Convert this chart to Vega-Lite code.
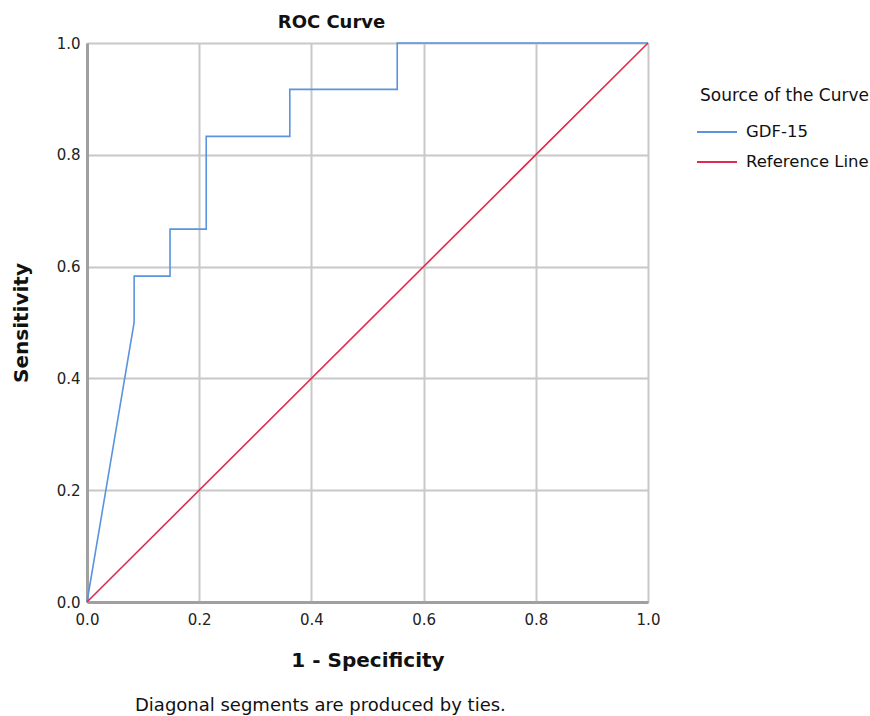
{
  "$schema": "https://vega.github.io/schema/vega-lite/v6.json",
  "background": "white",
  "padding": {"left": 10, "right": 0, "top": 13, "bottom": 5},
  "title": {
    "text": "Diagonal segments are produced by ties.",
    "orient": "bottom",
    "anchor": "start",
    "frame": "group",
    "dx": 48,
    "offset": 26,
    "fontSize": 18,
    "fontWeight": "normal",
    "font": "DejaVu Sans",
    "color": "#111"
  },
  "vconcat": [
    {
      "title": {
        "text": "ROC Curve",
        "anchor": "middle",
        "dx": -36,
        "fontSize": 18,
        "fontWeight": "bold",
        "font": "DejaVu Sans",
        "color": "#111",
        "offset": 4
      },
      "width": 561,
      "height": 559,
      "data": {
        "values": [
          {"series": "GDF-15", "i": 0, "fpr": 0, "tpr": 0},
          {"series": "GDF-15", "i": 1, "fpr": 0.084, "tpr": 0.5},
          {"series": "GDF-15", "i": 2, "fpr": 0.084, "tpr": 0.583},
          {"series": "GDF-15", "i": 3, "fpr": 0.148, "tpr": 0.583},
          {"series": "GDF-15", "i": 4, "fpr": 0.148, "tpr": 0.667},
          {"series": "GDF-15", "i": 5, "fpr": 0.2125, "tpr": 0.667},
          {"series": "GDF-15", "i": 6, "fpr": 0.2125, "tpr": 0.833},
          {"series": "GDF-15", "i": 7, "fpr": 0.3615, "tpr": 0.833},
          {"series": "GDF-15", "i": 8, "fpr": 0.3615, "tpr": 0.917},
          {"series": "GDF-15", "i": 9, "fpr": 0.553, "tpr": 0.917},
          {"series": "GDF-15", "i": 10, "fpr": 0.553, "tpr": 1},
          {"series": "GDF-15", "i": 11, "fpr": 1, "tpr": 1},
          {"series": "Reference Line", "i": 0, "fpr": 0, "tpr": 0},
          {"series": "Reference Line", "i": 1, "fpr": 1, "tpr": 1}
        ]
      },
      "mark": {"type": "line", "strokeWidth": 1.6, "clip": false},
      "encoding": {
        "x": {
          "field": "fpr",
          "type": "quantitative",
          "scale": {"domain": [0, 1], "nice": false, "zero": false},
          "axis": {
            "title": "1 - Specificity",
            "values": [0, 0.2, 0.4, 0.6, 0.8, 1],
            "format": ".1f",
            "labelFlush": false,
            "titlePadding": 23,
            "labelPadding": 10
          }
        },
        "y": {
          "field": "tpr",
          "type": "quantitative",
          "scale": {"domain": [0, 1], "nice": false, "zero": false},
          "axis": {
            "title": "Sensitivity",
            "values": [0, 0.2, 0.4, 0.6, 0.8, 1],
            "format": ".1f",
            "labelFlush": false,
            "titlePadding": 25,
            "labelPadding": 7
          }
        },
        "color": {
          "field": "series",
          "type": "nominal",
          "scale": {"domain": ["GDF-15", "Reference Line"], "range": ["#5a93de", "#e3294d"]},
          "legend": {
            "title": "Source of the Curve",
            "orient": "none",
            "legendX": 609,
            "legendY": 45,
            "symbolType": "stroke",
            "symbolSize": 1600,
            "symbolStrokeWidth": 2,
            "titleFontSize": 17,
            "titleFontWeight": "normal",
            "titleColor": "#111",
            "titlePadding": 6,
            "titleAnchor": "end",
            "labelFontSize": 16.5,
            "labelColor": "#111",
            "labelOffset": 8,
            "rowPadding": -2
          }
        },
        "order": {"field": "i", "type": "quantitative"}
      }
    }
  ],
  "config": {
    "font": "DejaVu Sans",
    "view": {"stroke": "#dcdcdc", "strokeWidth": 1},
    "axis": {
      "grid": true,
      "gridColor": "#c8c8c8",
      "gridWidth": 2,
      "domainColor": "#a0a0a0",
      "domainWidth": 3,
      "ticks": false,
      "labelFontSize": 15,
      "labelColor": "#222",
      "labelFont": "DejaVu Sans",
      "titleFontSize": 20,
      "titleFontWeight": "bold",
      "titleColor": "#111",
      "titleFont": "DejaVu Sans"
    },
    "legend": {"labelFont": "DejaVu Sans", "titleFont": "DejaVu Sans"}
  }
}
